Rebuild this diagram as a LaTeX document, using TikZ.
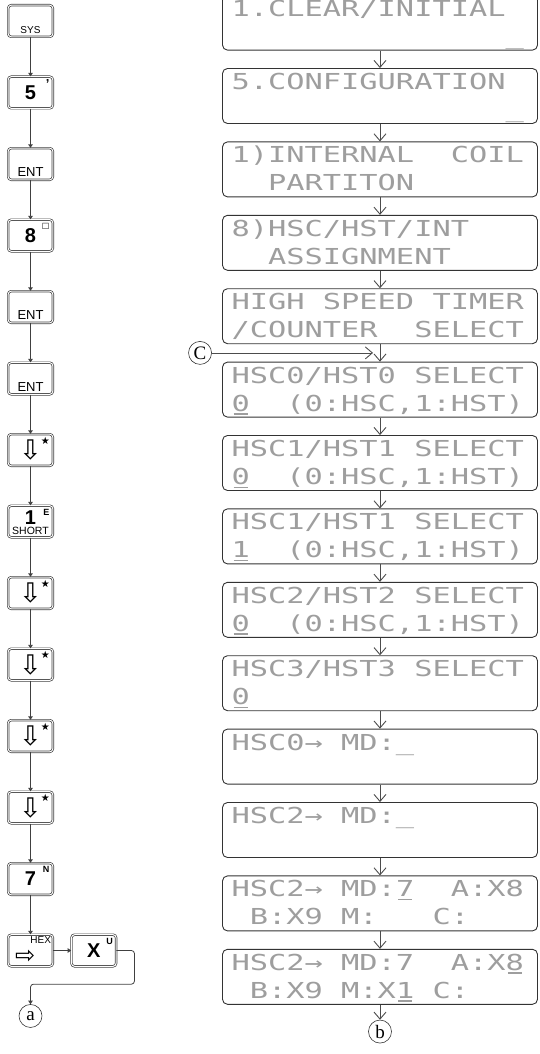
\documentclass[tikz,border=0pt]{standalone}
\usepackage{fontspec}
\usetikzlibrary{arrows.meta,positioning,calc}
\newfontfamily\lcdfont[FakeStretch=1.38]{DejaVu Sans Mono}
\newfontfamily\keyfont{Liberation Sans}
\newfontfamily\symfont{DejaVu Sans}
\newfontfamily\circfont{Liberation Serif}
\newcommand\ls{\rule[-6pt]{0pt}{27pt}}
\newcommand\lsp{\hphantom{0}}
\newcommand\lcdul[1]{\setbox0\hbox{#1}\rlap{\hspace{0.12\wd0}\rule[-3.5pt]{0.76\wd0}{1.4pt}}\box0}

\begin{document}
\begin{tikzpicture}[x=1pt, y=1pt,
    keybox/.style={draw=black!75, double, double distance=1pt, line width=0.7pt, rounded corners=3pt, minimum width=44.6pt, minimum height=31.6pt, inner sep=0pt, font=\keyfont\bfseries\fontsize{20}{20}\selectfont},
    keysup/.style={anchor=north east, inner sep=3.5pt, font=\keyfont\bfseries\fontsize{9}{9}\selectfont},
    keybot/.style={anchor=south, inner sep=3pt, font=\keyfont\fontsize{13}{13}\selectfont},
    dnkey/.style={keybox, font=\symfont\fontsize{27}{27}\selectfont, label={[keysup, inner sep=3pt, font=\symfont\fontsize{10}{10}\selectfont]north east:★}},
    lcd/.style={draw=black!80, line width=0.9pt, rounded corners=5pt, minimum height=55pt, text width=297pt, inner xsep=9pt, inner ysep=0pt, align=left, text=black!38, font=\lcdfont\fontsize{22}{25}\selectfont},
    circ/.style={draw=black!80, circle, line width=0.6pt, minimum size=23pt, inner sep=0pt, font=\circfont\fontsize{19}{19}\selectfont},
    keyarrow/.style={-{Triangle[length=3.5pt,width=4.5pt]}, black!75, line width=0.8pt},
    lcdarrow/.style={-{Straight Barb[length=7pt,width=12pt,line width=0.9pt]}, black!70, line width=0.7pt}
]
\useasboundingbox (0,0) rectangle (540,-1054);
% key column
\node[keybox, label={[keybot, font=\keyfont\fontsize{10}{10}\selectfont]south:SYS}] (ksys) at (30.5,-21) {};
\node[keybox, below=39.2pt of ksys, label={[keysup, font=\keyfont\bfseries\fontsize{13}{13}\selectfont]north east:’}] (k5) {5};
\node[keybox, below=39.2pt of k5, label={[keybot]south:ENT}] (kent1) {};
\node[keybox, below=39.2pt of kent1, label={[keysup, font=\symfont\fontsize{8}{8}\selectfont]north east:□}] (k8) {8};
\node[keybox, below=39.2pt of k8, label={[keybot]south:ENT}] (kent2) {};
\node[keybox, below=39.2pt of kent2, label={[keybot]south:ENT}] (kent3) {};
\node[dnkey, below=39.2pt of kent3] (kdn1) {⇩};
\node[keybox, below=39.2pt of kdn1, label={[keysup]north east:E}, label={[anchor=north, inner sep=5pt, font=\keyfont\bfseries\fontsize{20}{20}\selectfont]north:1}, label={[keybot, inner sep=2.5pt, font=\keyfont\fontsize{10.5}{10.5}\selectfont]south:SHORT}] (k1) {};
\node[dnkey, below=39.2pt of k1] (kdn2) {⇩};
\node[dnkey, below=39.2pt of kdn2] (kdn3) {⇩};
\node[dnkey, below=39.2pt of kdn3] (kdn4) {⇩};
\node[dnkey, below=39.2pt of kdn4] (kdn5) {⇩};
\node[keybox, below=39.2pt of kdn5, label={[keysup]north east:N}] (k7) {7};
\node[keybox, below=39.2pt of k7, label={[keysup, inner sep=2pt, font=\keyfont\fontsize{10}{10}\selectfont]north east:HEX}, label={[anchor=south west, inner sep=0pt, xshift=7pt, yshift=3pt, font=\symfont\fontsize{24}{24}\selectfont]south west:⇨}] (khex) {};
\node[keybox, right=18pt of khex, label={[keysup]north east:U}] (kx) {X};
\node[circ, below=37.5pt of khex] (ca) {a};
\draw[keyarrow] (ksys) -- (k5);
\draw[keyarrow] (k5) -- (kent1);
\draw[keyarrow] (kent1) -- (k8);
\draw[keyarrow] (k8) -- (kent2);
\draw[keyarrow] (kent2) -- (kent3);
\draw[keyarrow] (kent3) -- (kdn1);
\draw[keyarrow] (kdn1) -- (k1);
\draw[keyarrow] (k1) -- (kdn2);
\draw[keyarrow] (kdn2) -- (kdn3);
\draw[keyarrow] (kdn3) -- (kdn4);
\draw[keyarrow] (kdn4) -- (kdn5);
\draw[keyarrow] (kdn5) -- (k7);
\draw[keyarrow] (k7) -- (khex);
\draw[keyarrow] (khex) -- (kx);
\draw[keyarrow, rounded corners=3pt] (kx.east) -- ++(18,0) |- ($(ca.north)+(0,20)$) -- (ca);
% display column
\node[lcd] (lcd1) at (380,-22.6) {\ls 1.CLEAR/INITIAL\\\ls\hphantom{000000000000000}\_};
\node[lcd, below=17.5pt of lcd1] (lcd2) {\ls 5.CONFIGURATION\\\ls\hphantom{000000000000000}\_};
\node[lcd, below=17.5pt of lcd2] (lcd3) {\ls 1)INTERNAL\lsp\lsp COIL\\\ls\lsp\lsp PARTITON};
\node[lcd, below=17.5pt of lcd3] (lcd4) {\ls 8)HSC/HST/INT\\\ls\lsp\lsp ASSIGNMENT};
\node[lcd, below=17.5pt of lcd4] (lcd5) {\ls HIGH\lsp SPEED\lsp TIMER\\\ls /COUNTER\lsp\lsp SELECT};
\node[lcd, below=17.5pt of lcd5] (lcd6) {\ls HSC0/HST0\lsp SELECT\\\ls\lcdul{0}\lsp\lsp(0:HSC,1:HST)};
\node[lcd, below=17.5pt of lcd6] (lcd7) {\ls HSC1/HST1\lsp SELECT\\\ls\lcdul{0}\lsp\lsp(0:HSC,1:HST)};
\node[lcd, below=17.5pt of lcd7] (lcd8) {\ls HSC1/HST1\lsp SELECT\\\ls\lcdul{1}\lsp\lsp(0:HSC,1:HST)};
\node[lcd, below=17.5pt of lcd8] (lcd9) {\ls HSC2/HST2\lsp SELECT\\\ls\lcdul{0}\lsp\lsp(0:HSC,1:HST)};
\node[lcd, below=17.5pt of lcd9] (lcd10) {\ls HSC3/HST3\lsp SELECT\\\ls\lcdul{0}};
\node[lcd, below=17.5pt of lcd10] (lcd11) {\ls HSC0→\lsp MD:\_\\\ls};
\node[lcd, below=17.5pt of lcd11] (lcd12) {\ls HSC2→\lsp MD:\_\\\ls};
\node[lcd, below=17.5pt of lcd12] (lcd13) {\ls HSC2→\lsp MD:\lcdul{7}\lsp\lsp A:X8\\\ls\lsp B:X9\lsp M:\lsp\lsp\lsp C:};
\node[lcd, below=17.5pt of lcd13] (lcd14) {\ls HSC2→\lsp MD:7\lsp\lsp A:X\lcdul{8}\\\ls\lsp B:X9\lsp M:X\lcdul{1}0\lsp C:};
\node[circ, below=15pt of lcd14] (cb) {b};
\node[circ] (cc) at ($(lcd5.south west)!0.5!(lcd6.north west)+(-22,0)$) {C};
\coordinate (cin) at ($(lcd5.south)!0.5!(lcd6.north)+(-7,0)$);
\draw[lcdarrow] (lcd1) -- (lcd2);
\draw[lcdarrow] (lcd2) -- (lcd3);
\draw[lcdarrow] (lcd3) -- (lcd4);
\draw[lcdarrow] (lcd4) -- (lcd5);
\draw[lcdarrow] (lcd5) -- (lcd6);
\draw[lcdarrow] (lcd6) -- (lcd7);
\draw[lcdarrow] (lcd7) -- (lcd8);
\draw[lcdarrow] (lcd8) -- (lcd9);
\draw[lcdarrow] (lcd9) -- (lcd10);
\draw[lcdarrow] (lcd10) -- (lcd11);
\draw[lcdarrow] (lcd11) -- (lcd12);
\draw[lcdarrow] (lcd12) -- (lcd13);
\draw[lcdarrow] (lcd13) -- (lcd14);
\draw[lcdarrow] (lcd14) -- (cb);
\draw[lcdarrow] (cc) -- (cin);
\end{tikzpicture}
\end{document}
